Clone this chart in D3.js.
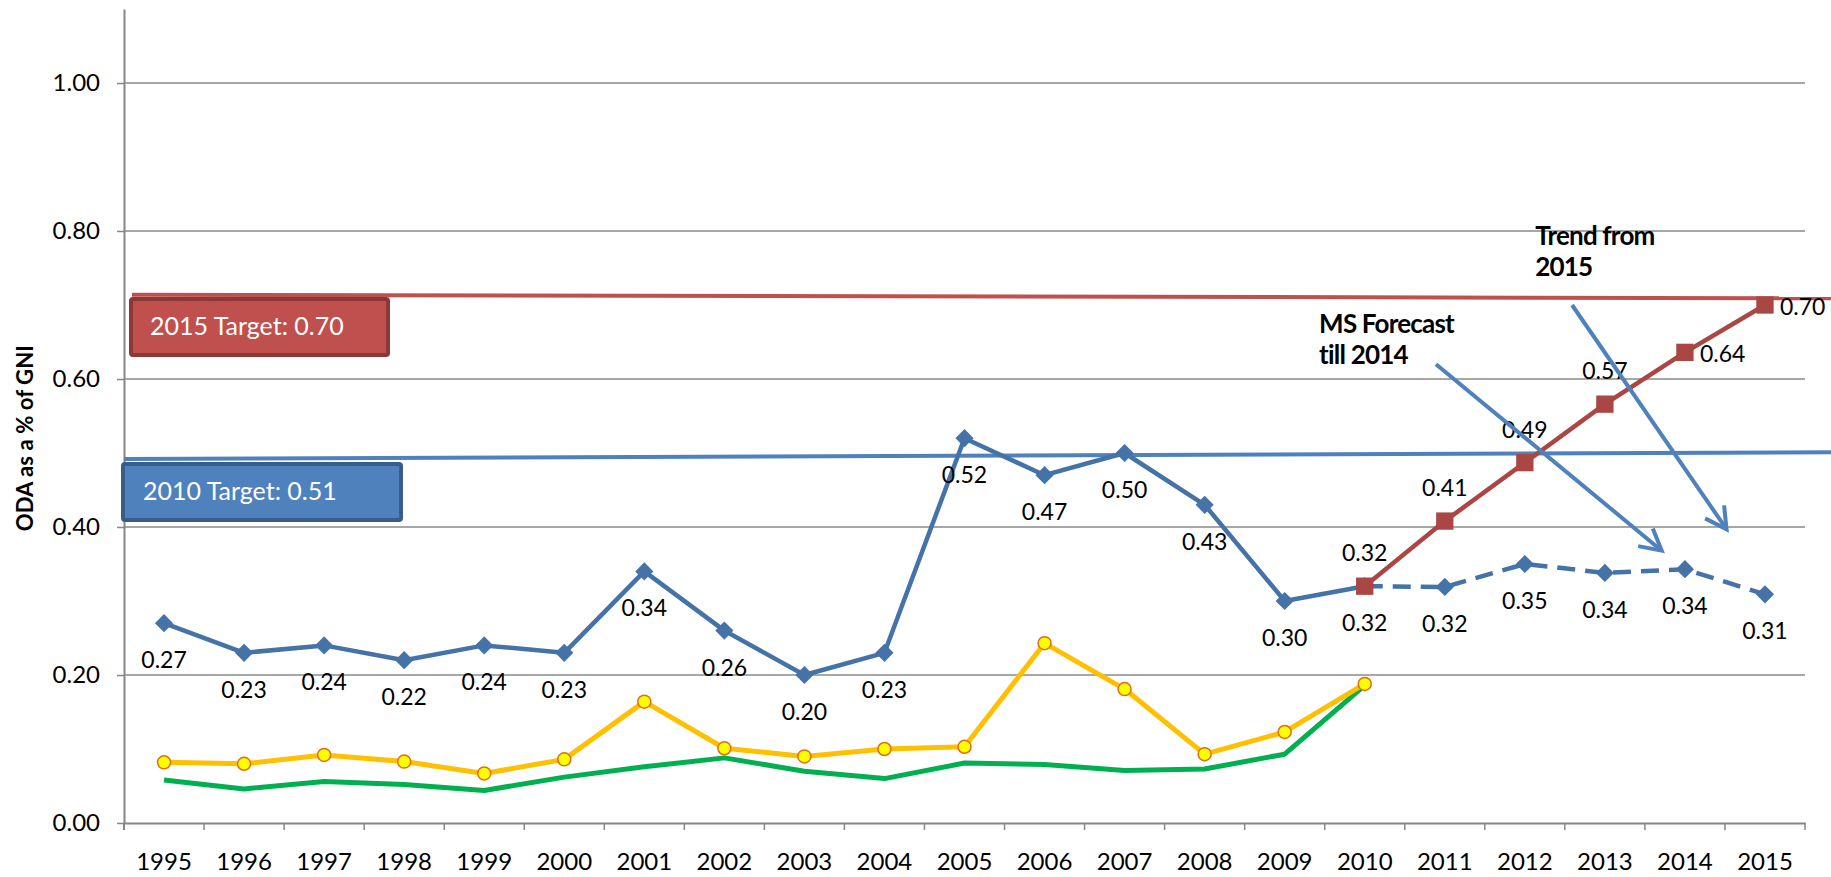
<!DOCTYPE html>
<html>
<head>
<meta charset="utf-8">
<script src="https://cdn.jsdelivr.net/npm/d3@7"></script>
<style>
  body { margin: 0; background: #fff; }
  text { font-family: Lato, "Open Sans", sans-serif; }
</style>
</head>
<body>
<svg></svg>
<script>
const width = 1831;
const height = 877;

// categories (x axis)
const years = ["1995","1996","1997","1998","1999","2000","2001","2002","2003","2004",
               "2005","2006","2007","2008","2009","2010","2011","2012","2013","2014","2015"];

// ODA as % of GNI, actual (blue, solid)
const actualYears = ["1995","1996","1997","1998","1999","2000","2001","2002","2003","2004",
                     "2005","2006","2007","2008","2009","2010"];
const actual = [0.27,0.23,0.24,0.22,0.24,0.23,0.34,0.26,0.20,0.23,0.52,0.47,0.50,0.43,0.30,0.32];

// member state forecast (blue, dashed)
const forecastYears = ["2010","2011","2012","2013","2014","2015"];
const forecast = [0.32,0.319,0.35,0.338,0.343,0.309];

// trajectory to 2015 target (red)
const trajectory = [0.32,0.408,0.487,0.566,0.636,0.70];

// yellow and green series (no labels)
const yellow = [0.082,0.080,0.092,0.083,0.067,0.086,0.164,0.101,0.090,0.100,0.103,0.243,0.181,0.093,0.123,0.188];
const green  = [0.058,0.046,0.056,0.052,0.044,0.062,0.076,0.088,0.070,0.060,0.081,0.079,0.071,0.073,0.093,0.186];

const yTicks = [0, 0.2, 0.4, 0.6, 0.8, 1.0];

// target lines, value at left and right end
const target2015Line = [0.714, 0.709];
const target2010Line = [0.492, 0.501];

let svg = d3.select("svg").attr("width", width).attr("height", height);

const plotLeft = 124, plotRight = 1805, plotBottom = 823, plotTop = 9;

let xScale = d3.scaleBand().domain(years).range([plotLeft, plotRight]);
let xPos = d => xScale(d) + xScale.bandwidth() / 2;
// continuous year scale for annotations
let xYear = d3.scaleLinear().domain([1994.5, 2015.5]).range([plotLeft, plotRight]);
let yScale = d3.scaleLinear().domain([0, 1.1]).range([plotBottom, plotTop]);
let fmt = d3.format(".2f");

// gridlines
svg.append("g")
    .selectAll("line")
    .data(yTicks.slice(1))
    .enter().append("line")
    .attr("x1", plotLeft).attr("x2", plotRight)
    .attr("y1", d => yScale(d)).attr("y2", d => yScale(d))
    .attr("stroke", "#8a8a8a").attr("stroke-width", 1.5);

// y axis
let yAxis = d3.axisLeft(yScale).tickValues(yTicks).tickFormat(fmt).tickSizeInner(7).tickSizeOuter(0).tickPadding(17);
let gy = svg.append("g").attr("transform", `translate(${plotLeft},0)`).call(yAxis);
gy.select(".domain").attr("stroke", "#868686").attr("stroke-width", 2);
gy.selectAll(".tick line").attr("stroke", "#868686").attr("stroke-width", 1.5);
gy.selectAll(".tick text").attr("font-family", "Lato").attr("font-size", 24).attr("fill", "#000");

// x axis
let xAxis = d3.axisBottom(xScale).tickSize(0).tickPadding(30);
let gx = svg.append("g").attr("transform", `translate(0,${plotBottom})`).call(xAxis);
gx.select(".domain").attr("stroke", "#868686").attr("stroke-width", 2);
gx.selectAll(".tick text").attr("font-family", "Lato").attr("font-size", 24).attr("fill", "#000");
// tick marks between categories
gx.append("g").selectAll("line")
    .data(years)
    .enter().append("line")
    .attr("x1", d => xScale(d) + xScale.bandwidth()).attr("x2", d => xScale(d) + xScale.bandwidth())
    .attr("y1", 0).attr("y2", 7)
    .attr("stroke", "#868686").attr("stroke-width", 1.5);
gx.append("line").attr("x1", plotLeft).attr("x2", plotLeft).attr("y1", 0).attr("y2", 7)
    .attr("stroke", "#868686").attr("stroke-width", 2);

// y axis title
svg.append("text")
    .attr("transform", `translate(33,${yScale(0.52)}) rotate(-90)`)
    .attr("text-anchor", "middle")
    .attr("font-family", "Lato").attr("font-weight", "bold").attr("font-size", 22)
    .attr("textLength", 186).attr("lengthAdjust", "spacingAndGlyphs")
    .text("ODA as a % of GNI");

// target lines
svg.append("line")
    .attr("x1", plotLeft + 8).attr("x2", width)
    .attr("y1", yScale(target2015Line[0])).attr("y2", yScale(target2015Line[1]))
    .attr("stroke", "#C0504D").attr("stroke-width", 4);
svg.append("line")
    .attr("x1", plotLeft).attr("x2", width)
    .attr("y1", yScale(target2010Line[0])).attr("y2", yScale(target2010Line[1]))
    .attr("stroke", "#4F81BD").attr("stroke-width", 4);

// target boxes
function targetBox(x, y, w, h, fill, stroke, label, tx) {
    svg.append("rect").attr("x", x).attr("y", y).attr("width", w).attr("height", h)
        .attr("rx", 2).attr("fill", fill).attr("stroke", stroke).attr("stroke-width", 4);
    svg.append("text").attr("x", tx).attr("y", y + h / 2 + 8)
        .attr("fill", "#fff").attr("font-family", "Lato").attr("font-size", 25)
        .text(label);
}
targetBox(131, 299, 257, 56, "#C0504D", "#8C3836", "2015 Target: 0.70", 150);
targetBox(123, 464, 278, 56, "#4F81BD", "#385D8A", "2010 Target: 0.51", 143);

// lines
let line = d3.line().x(d => xPos(d[0])).y(d => yScale(d[1]));

svg.append("path")
    .datum(d3.zip(actualYears, green))
    .attr("d", line).attr("fill", "none")
    .attr("stroke", "#00B050").attr("stroke-width", 5).attr("stroke-linejoin", "round");

svg.append("path")
    .datum(d3.zip(actualYears, yellow))
    .attr("d", line).attr("fill", "none")
    .attr("stroke", "#FFC000").attr("stroke-width", 5).attr("stroke-linejoin", "round");

svg.append("g").selectAll("circle")
    .data(d3.zip(actualYears, yellow))
    .enter().append("circle")
    .attr("cx", d => xPos(d[0])).attr("cy", d => yScale(d[1])).attr("r", 6.5)
    .attr("fill", "#FFFF00").attr("stroke", "#E46C0A").attr("stroke-width", 1.5);

svg.append("path")
    .datum(d3.zip(forecastYears, forecast))
    .attr("d", line).attr("fill", "none")
    .attr("stroke", "#4572A7").attr("stroke-width", 4.5).attr("stroke-dasharray", "18,10");

svg.append("path")
    .datum(d3.zip(actualYears, actual))
    .attr("d", line).attr("fill", "none")
    .attr("stroke", "#4572A7").attr("stroke-width", 4.5).attr("stroke-linejoin", "round");

svg.append("path")
    .datum(d3.zip(forecastYears, trajectory))
    .attr("d", line).attr("fill", "none")
    .attr("stroke", "#AA4643").attr("stroke-width", 4.5);

// diamonds
let diamond = d3.symbol().type(d3.symbolSquare).size(165);
let blueMarks = d3.zip(actualYears, actual).concat(d3.zip(forecastYears.slice(1), forecast.slice(1)));
svg.append("g").selectAll("path")
    .data(blueMarks)
    .enter().append("path")
    .attr("d", diamond)
    .attr("transform", d => `translate(${xPos(d[0])},${yScale(d[1])}) rotate(45)`)
    .attr("fill", "#4572A7");

// squares
let square = d3.symbol().type(d3.symbolSquare).size(300);
svg.append("g").selectAll("path")
    .data(d3.zip(forecastYears, trajectory))
    .enter().append("path")
    .attr("d", square)
    .attr("transform", d => `translate(${xPos(d[0])},${yScale(d[1])})`)
    .attr("fill", "#AA4643");

// data labels: blue below
svg.append("g").selectAll("text")
    .data(blueMarks)
    .enter().append("text")
    .attr("x", d => xPos(d[0])).attr("y", d => yScale(d[1]) + 45)
    .attr("text-anchor", "middle").attr("font-size", 23).attr("fill", "#000")
    .text(d => fmt(d[1]));

// data labels: red above / right
svg.append("g").selectAll("text")
    .data(d3.zip(forecastYears, trajectory))
    .enter().append("text")
    .attr("x", (d, i) => i < 4 ? xPos(d[0]) : xPos(d[0]) + 15)
    .attr("y", (d, i) => i < 4 ? yScale(d[1]) - 25 : yScale(d[1]) + 10)
    .attr("text-anchor", (d, i) => i < 4 ? "middle" : "start")
    .attr("font-size", 23).attr("fill", "#000")
    .text(d => fmt(d[1]));

// annotations
const arrows = [
    { from: [2010.89, 0.620], to: [2013.71, 0.368] },
    { from: [2012.59, 0.700], to: [2014.52, 0.397] }
];
const notes = [
    { at: [2009.43, 0.662], lines: ["MS Forecast", "till 2014"] },
    { at: [2012.13, 0.781], lines: ["Trend from", "2015"] }
];

arrows.forEach(a => {
    let x1 = xYear(a.from[0]), y1 = yScale(a.from[1]);
    let x2 = xYear(a.to[0]), y2 = yScale(a.to[1]);
    let ang = Math.atan2(y2 - y1, x2 - x1);
    let len = 24, spread = 0.5;
    svg.append("line").attr("x1", x1).attr("y1", y1).attr("x2", x2).attr("y2", y2)
        .attr("stroke", "#4F81BD").attr("stroke-width", 4);
    svg.append("path")
        .attr("d", `M${x2 - len * Math.cos(ang - spread)},${y2 - len * Math.sin(ang - spread)}L${x2},${y2}L${x2 - len * Math.cos(ang + spread)},${y2 - len * Math.sin(ang + spread)}`)
        .attr("fill", "none").attr("stroke", "#4F81BD").attr("stroke-width", 4);
});

notes.forEach(n => {
    let t = svg.append("text")
        .attr("x", xYear(n.at[0])).attr("y", yScale(n.at[1]))
        .attr("font-weight", "bold").attr("font-size", 26).attr("fill", "#000")
        .attr("letter-spacing", -0.8);
    n.lines.forEach((l, i) => {
        t.append("tspan").attr("x", xYear(n.at[0])).attr("dy", i === 0 ? 0 : 31).text(l);
    });
});
</script>
</body>
</html>
